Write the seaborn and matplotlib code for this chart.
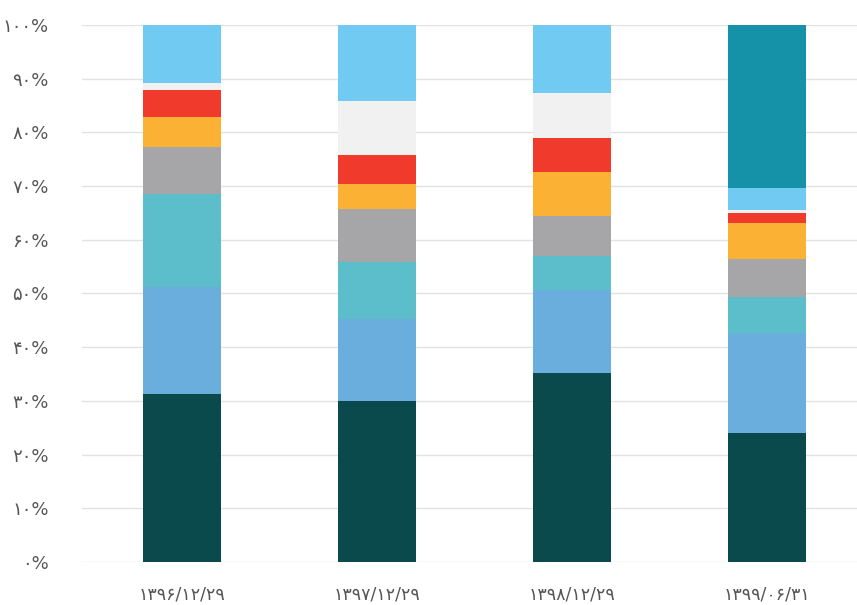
import numpy as np
import pandas as pd
import seaborn as sns
import matplotlib.pyplot as plt

dates = ["۱۳۹۶/۱۲/۲۹", "۱۳۹۷/۱۲/۲۹", "۱۳۹۸/۱۲/۲۹", "۱۳۹۹/۰۶/۳۱"]

# segment shares (%) per date, bottom -> top
dark_teal  = [31.3, 30.0, 35.2, 24.0]
med_blue   = [19.9, 15.3, 15.5, 18.6]
teal_cyan  = [17.3, 10.6, 6.3, 6.7]
gray       = [8.8, 9.8, 7.4, 7.1]
orange     = [5.6, 4.7, 8.2, 6.7]
red        = [5.0, 5.4, 6.4, 1.9]
pale       = [1.3, 10.0, 8.3, 0.5]
light_blue = [10.8, 14.2, 12.7, 4.1]
dark_cyan  = [0.0, 0.0, 0.0, 30.4]

series = [dark_teal, med_blue, teal_cyan, gray, orange, red, pale, light_blue, dark_cyan]
colors = ["#0a4a4d", "#6aaede", "#5cbdcb", "#a6a6a9", "#fab134",
          "#ef3a2c", "#f1f1f1", "#70caf2", "#1692a8"]

yticks = np.arange(0, 101, 10)
persian = str.maketrans("0123456789", "۰۱۲۳۴۵۶۷۸۹")
ytick_labels = [f"{v}".translate(persian) + "%" for v in yticks]

sns.set_theme(style="white")
plt.rcParams["font.family"] = ["DejaVu Sans"]

fig = plt.figure(figsize=(8.57, 6.05), dpi=100)
ax = fig.add_axes([0.096, 0.071, 0.904, 0.888])

cum = np.cumsum(np.array(series), axis=0)
# draw tallest cumulative first so lower segments overlay it
for k in range(len(series) - 1, -1, -1):
    df = pd.DataFrame({"date": dates, "value": cum[k]})
    sns.barplot(data=df, x="date", y="value", color=colors[k],
                width=0.4, saturation=1, ax=ax, zorder=2, linewidth=0)

ax.set_ylim(0, 100)
ax.set_xlim(-0.513, 3.46)
ax.set_yticks(yticks)
ax.set_yticklabels(ytick_labels)
ax.yaxis.grid(True, color="#e2e2e2", linewidth=1, zorder=0)
ax.set_axisbelow(True)
for s in ax.spines.values():
    s.set_visible(False)
ax.tick_params(axis="y", length=0, pad=24, labelsize=13, labelcolor="#555555")
ax.tick_params(axis="x", length=0, pad=17, labelsize=12.5, labelcolor="#555555")
ax.set_xlabel("")
ax.set_ylabel("")

fig.savefig("out.png", dpi=100)
